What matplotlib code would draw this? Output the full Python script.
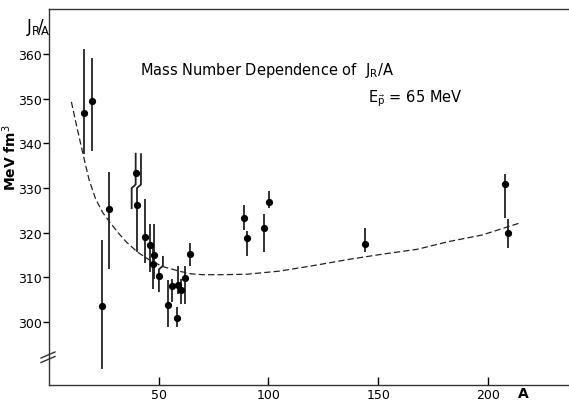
import numpy as np
import matplotlib.pyplot as plt

# mass number, J_R/A and the ends of each error bar (MeV fm^3)
mass = [15.8, 19.7, 24.3, 27.5, 39.5, 40.1, 43.7, 45.9, 47.9, 47.5, 50.1, 54.2, 55.9,
        58.7, 60.0, 58.2, 62.2, 64.3, 88.9, 90.3, 97.9, 100.1, 143.8, 208.0, 209.1]
jr = [346.8, 349.6, 303.6, 325.3, 333.4, 326.2, 319.0, 317.3, 315.1, 313.0, 310.2, 303.9, 308.0,
      308.4, 307.2, 300.9, 309.9, 315.2, 323.4, 318.9, 321.1, 326.9, 317.5, 330.9, 319.9]
jr_hi = [361.1, 359.1, 318.4, 333.5, 337.9, 337.8, 327.6, 321.9, 321.9, 317.0, 314.8, 309.4, 309.6,
         312.6, 309.6, 303.3, 312.6, 317.7, 326.2, 320.3, 324.2, 329.4, 321.0, 333.1, 323.1]
jr_lo = [337.6, 338.3, 289.5, 311.8, 325.3, 315.7, 313.3, 311.2, 309.6, 307.5, 306.7, 298.8, 304.4,
         306.3, 304.0, 298.8, 304.0, 312.6, 320.7, 314.8, 315.7, 325.5, 315.6, 323.4, 316.5]

# dashed systematics curve
curve_a = [10.2, 13.0, 15.7, 18.3, 21.3, 24.5, 27.8, 31.5, 35.3, 40.5, 46.4, 52.0, 59.3, 64.6,
           70.0, 78.3, 90.0, 105.0, 120.0, 137.5, 152.0, 167.9, 182.0, 197.5, 214.7]
curve_j = [349.3, 343.0, 337.2, 331.8, 327.5, 324.5, 322.3, 320.0, 317.9, 315.6, 313.7, 312.4, 311.4, 310.8,
           310.6, 310.6, 310.7, 311.4, 312.6, 314.1, 315.2, 316.3, 318.0, 319.5, 322.2]

# bars drawn with a sideways step: index -> (value where the step is, which part, offset in px)
jogs = {4: (330.8, 'lower', -4), 5: (330.0, 'upper', 4), 10: (311.8, 'upper', 4)}

fig = plt.figure(figsize=(5.69, 4.02), dpi=100)
ax = fig.add_axes([49/569, 16/402, 520/569, 376/402])
ax.set_xlim(0, 237)
ax.set_ylim(285.9, 370.1)

px = 237 / 520.0   # data units per pixel along x
step = 0.8         # height of the step in data units
for i, (a, j, hi, lo) in enumerate(zip(mass, jr, jr_hi, jr_lo)):
    if i in jogs:
        split, part, off = jogs[i]
        d = off * px
        if part == 'upper':
            xs = [a + d, a + d, a, a]
            ys = [hi, split + step, split, lo]
        else:
            xs = [a, a, a + d, a + d]
            ys = [hi, split, split - step, lo]
        ax.plot(xs, ys, color='#222222', lw=1.3, solid_capstyle='butt')
    else:
        ax.plot([a, a], [lo, hi], color='#222222', lw=1.3, solid_capstyle='butt')
ax.plot(mass, jr, 'o', color='black', ms=4.2, zorder=3)

ax.plot(curve_a, curve_j, color='#222222', lw=0.9, dashes=(5, 2.5))

ax.spines['right'].set_visible(False)
for s in ['left', 'bottom', 'top']:
    ax.spines[s].set_linewidth(1.0)
    ax.spines[s].set_color('#333333')

ax.set_yticks([300, 310, 320, 330, 340, 350, 360])
ax.set_xticks([50, 100, 150, 200])
ax.tick_params(axis='y', direction='out', length=4, width=1, labelsize=9, pad=1)
ax.tick_params(axis='x', direction='in', length=6, width=1, labelsize=9, pad=2)

# axis break marks on the y axis
yb = 30 / 376
for dy in (-0.012, 0.0):
    ax.plot([-8/520, 6/520], [yb + dy - 0.008, yb + dy + 0.008], color='#333333', lw=1,
            transform=ax.transAxes, clip_on=False)

ax.text(216, -0.022, 'A', transform=ax.get_xaxis_transform(), ha='center', va='center',
        fontsize=10, fontweight='bold')
fig.text(10/569, 1 - 158/402, 'MeV fm$^3$', rotation=90, ha='center', va='center',
         fontsize=10, fontweight='bold')
fig.text(26/569, 1 - 28/402, r'$\mathregular{J_R\!/\!_A}$', ha='left', va='center', fontsize=12)

ax.text(0.175, 0.84, r'Mass Number Dependence of  $\mathregular{J_R/A}$', transform=ax.transAxes,
        ha='left', va='center', fontsize=10.5)
ax.text(0.613, 0.765, r'$\mathregular{E_{\vec{p}}}$ = 65 MeV', transform=ax.transAxes,
        ha='left', va='center', fontsize=10.5)

fig.savefig('out.png', dpi=100)
